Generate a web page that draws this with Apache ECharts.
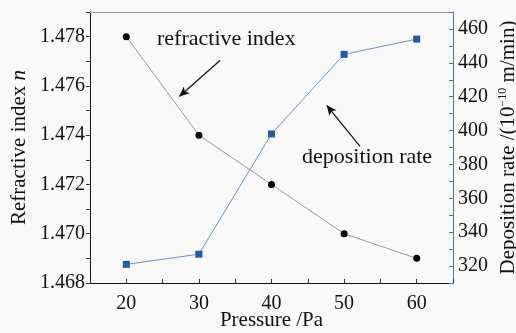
<!DOCTYPE html>
<html>
<head>
<meta charset="utf-8">
<script src="https://cdn.jsdelivr.net/npm/echarts@6/dist/echarts.min.js"></script>
<style>
html,body{margin:0;padding:0;background:#ffffff;}
#chart{width:516px;height:333px;}
</style>
</head>
<body>
<div id="chart"></div>
<script>
const pressure = [20, 30, 40, 50, 60];
const refractiveIndex = [1.478, 1.474, 1.472, 1.470, 1.469];
const depositionRate = [321, 327, 398, 445, 454];

const xTickLabels = [20, 30, 40, 50, 60];
const leftTickLabels = ['1.468', '1.470', '1.472', '1.474', '1.476', '1.478'];
const rightTickLabels = [320, 340, 360, 380, 400, 420, 440, 460];

const FONT = '"Liberation Serif", "DejaVu Serif", serif';

const chart = echarts.init(document.getElementById('chart'), null, {renderer: 'canvas'});

const option = {
  backgroundColor: '#f9f9f9',
  animation: false,
  grid: {left: 90, right: 63, top: 12, bottom: 50, containLabel: false, outerBoundsMode: 'none'},
  xAxis: [{
    type: 'value', min: 15, max: 65, interval: 5,
    name: 'Pressure /Pa', nameLocation: 'middle', nameGap: 27, nameMoveOverlap: false,
    nameTextStyle: {fontFamily: FONT, fontSize: 21, color: '#111'},
    axisLine: {show: true, onZero: false, lineStyle: {color: '#111', width: 1}},
    axisTick: {show: true, inside: true, length: 4, lineStyle: {color: '#333'}},
    axisLabel: {
      fontFamily: FONT, fontSize: 20, color: '#111', margin: 11,
      formatter: v => xTickLabels.includes(Math.round(v)) && Math.abs(v - Math.round(v)) < 1e-6 ? String(Math.round(v)) : ''
    },
    splitLine: {show: false}
  }, {
    type: 'value', min: 15, max: 65, position: 'top',
    axisLine: {show: true, onZero: false, lineStyle: {color: '#999', width: 1}},
    axisTick: {show: false}, axisLabel: {show: false}, splitLine: {show: false}
  }],
  yAxis: [{
    type: 'value', min: 1.468, max: 1.479, interval: 0.001, position: 'left',
    name: 'Refractive index {i|n}', nameLocation: 'middle', nameGap: 60, nameMoveOverlap: false,
    nameTextStyle: {fontFamily: FONT, fontSize: 21, color: '#111',
      rich: {i: {fontFamily: FONT, fontSize: 21, fontStyle: 'italic', color: '#111'}}},
    axisLine: {show: true, onZero: false, lineStyle: {color: '#111', width: 1}},
    axisTick: {show: true, inside: false, length: 4, lineStyle: {color: '#333'}},
    axisLabel: {
      fontFamily: FONT, fontSize: 20, color: '#111', margin: 5,
      formatter: v => { const s = v.toFixed(3); return leftTickLabels.includes(s) ? s : ''; }
    },
    splitLine: {show: false}
  }, {
    type: 'value', min: 310, max: 470, interval: 10, position: 'right',
    name: 'Deposition rate /(10{sup|−10} m/min)', nameLocation: 'middle', nameGap: 44, nameMoveOverlap: false,
    nameTextStyle: {fontFamily: FONT, fontSize: 21, color: '#111', lineHeight: 23,
      rich: {sup: {fontFamily: FONT, fontSize: 12, color: '#111', verticalAlign: 'top', lineHeight: 23}}},
    axisLine: {show: true, onZero: false, lineStyle: {color: '#4a72c4', width: 1}},
    axisTick: {show: true, inside: true, length: 4, lineStyle: {color: '#4a72c4'}},
    axisLabel: {
      fontFamily: FONT, fontSize: 20, color: '#111', margin: 5,
      formatter: v => rightTickLabels.includes(Math.round(v)) ? String(Math.round(v)) : ''
    },
    splitLine: {show: false}
  }],
  series: [{
    name: 'refractive index', type: 'line', xAxisIndex: 0, yAxisIndex: 0,
    data: pressure.map((p, i) => [p, refractiveIndex[i]]),
    symbol: 'circle', symbolSize: 7,
    lineStyle: {color: '#999', width: 1},
    itemStyle: {color: '#000'},
    markLine: {
      silent: true, symbol: ['none', 'arrow'], symbolSize: [7, 10],
      label: {show: false},
      lineStyle: {color: '#111', width: 1.2, type: 'solid'},
      data: [
        [{coord: [32.9, 1.47703]}, {coord: [27.3, 1.47557]}],
        [{coord: [52.2, 1.47355]}, {coord: [47.6, 1.47521]}]
      ]
    }
  }, {
    name: 'deposition rate', type: 'line', xAxisIndex: 0, yAxisIndex: 1,
    data: pressure.map((p, i) => [p, depositionRate[i]]),
    symbol: 'rect', symbolSize: 7,
    lineStyle: {color: '#6a8fd8', width: 1},
    itemStyle: {color: '#2457b0'}
  }],
  graphic: [{
    type: 'text', left: 157, top: 28,
    style: {text: 'refractive index', font: '22px ' + FONT, fill: '#111'}
  }, {
    type: 'text', left: 302, top: 146,
    style: {text: 'deposition rate', font: '22px ' + FONT, fill: '#111'}
  }]
};
chart.setOption(option);
</script>
</body>
</html>
